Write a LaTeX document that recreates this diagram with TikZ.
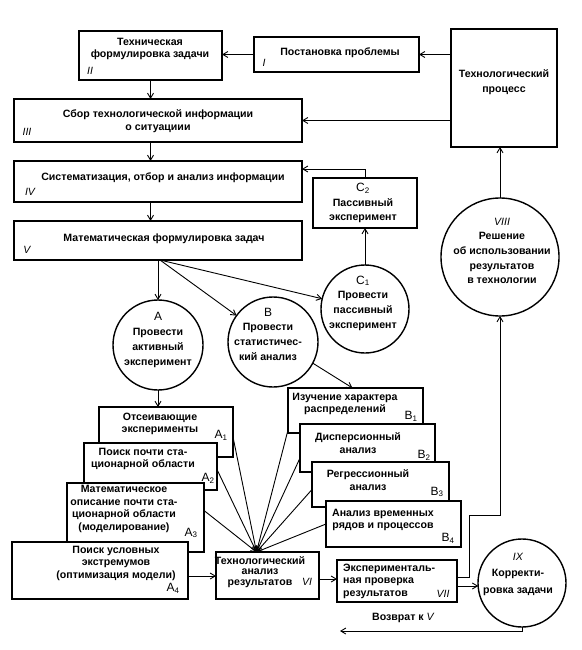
\documentclass[tikz,border=0pt]{standalone}
\usepackage{fontspec}
\setmainfont{Liberation Sans}
\usetikzlibrary{arrows.meta,shapes.geometric}
\newcommand\mkbox[5]{\node[boxst, anchor=north west, minimum width=#4pt, minimum height=#5pt] (#1) at (#2,#3) {};}
\newcommand\cletter[1]{{\mdseries\fontsize{12}{14.7}\selectfont #1}}
\begin{document}
\begin{tikzpicture}[x=1pt,y=-1pt,
  boxst/.style={draw, line width=1.6pt, fill=white, inner sep=0pt, outer sep=0pt},
  circst/.style={draw, circle, line width=1.4pt, inner sep=0pt, outer sep=0pt, fill=white},
  txt/.style={font=\bfseries\fontsize{10.6}{12.5}\selectfont, align=center, inner sep=0pt},
  ctxt/.style={font=\bfseries\fontsize{10.6}{14.7}\selectfont, align=center, inner sep=0pt},
  rom/.style={font=\itshape\fontsize{10.5}{12}\selectfont, inner sep=0pt},
  lab/.style={font=\fontsize{12}{12}\selectfont, inner sep=0pt},
  arr/.style={line width=0.9pt, -{Straight Barb[length=5pt,width=6pt]}},
  ln/.style={line width=0.9pt}
]
\useasboundingbox (0,0) rectangle (581,650);
% boxes
\mkbox{I}{254}{37}{165}{35}
\mkbox{II}{79}{31}{143}{49}
\mkbox{TP}{451}{29}{106}{118}
\mkbox{III}{14}{99}{288}{43}
\mkbox{IV}{14}{161}{288}{41}
\mkbox{V}{14}{221}{288}{39}
\mkbox{C2}{313}{178}{104}{50}
\mkbox{A1}{99}{407}{134}{50}
\mkbox{A2}{84}{443}{133}{47}
\mkbox{A3}{67}{483}{137}{69}
\mkbox{A4}{12}{542}{176}{57}
\mkbox{B1}{288}{388}{135}{45}
\mkbox{B2}{300}{424}{135}{48}
\mkbox{B3}{312}{462}{137}{45}
\mkbox{B4}{326}{501}{135}{46}
\mkbox{VI}{216}{552}{103}{47}
\mkbox{VII}{337}{560}{120}{42}
% circles
\node[circst, minimum size=90pt] (A) at (158,345) {};
\node[circst, minimum size=90pt] (B) at (273,342) {};
\node[circst, minimum size=88pt] (C1) at (365,309) {};
\node[circst, minimum size=118pt] (VIII) at (500,257) {};
\node[circst, minimum size=88pt] (IX) at (522,583) {};
% texts
\node[txt] (tI) at (340,53) {Постановка проблемы};
\node[rom] (nI) at (264,63) {I};
\node[txt] (tII) at (150,49) {Техническая\\формулировка задачи};
\node[rom] (nII) at (90,71) {II};
\node[ctxt] (tTP) at (504,82) {Технологический\\процесс};
\node[txt] (tIII) at (158,121) {Сбор технологической информации\\о ситуациии};
\node[rom] (nIII) at (27,132) {III};
\node[txt] (tIV) at (163,178) {Систематизация, отбор и анализ информации};
\node[rom] (nIV) at (30,192) {IV};
\node[txt] (tV) at (164,239) {Математическая формулировка задач};
\node[rom] (nV) at (27,250) {V};
\node[ctxt] (tC2) at (363,203) {\cletter{C\textsubscript{2}}\\Пассивный\\эксперимент};
\node[ctxt] (tC1) at (363,303) {\cletter{C\textsubscript{1}}\\Провести\\пассивный\\эксперимент};
\node[ctxt] (tVIII) at (502,251) {{\mdseries\itshape VIII}\\Решение\\об использовании\\результатов\\в технологии};
\node[ctxt] (tA) at (158,340) {\cletter{A}\\Провести\\активный\\эксперимент};
\node[ctxt] (tB) at (268,334) {\cletter{B}\\Провести\\статистичес-\\кий анализ};
\node[txt] (tA1) at (160,424) {Отсеивающие\\эксперименты};
\node[lab] (lA1) at (221,435) {A\textsubscript{1}};
\node[txt] (tA2) at (143,459) {Поиск почти ста-\\ционарной области};
\node[lab] (lA2) at (208,478) {A\textsubscript{2}};
\node[txt] (tA3) at (124,509) {Математическое\\описание почти ста-\\ционарной области\\(моделирование)};
\node[lab] (lA3) at (191,533) {A\textsubscript{3}};
\node[txt] (tA4) at (116,563) {Поиск условных\\экстремумов\\(оптимизация модели)};
\node[lab] (lA4) at (173,588) {A\textsubscript{4}};
\node[txt] (tB1) at (345,404) {Изучение характера\\распределений};
\node[lab] (lB1) at (411,416) {B\textsubscript{1}};
\node[txt] (tB2) at (358,443) {Дисперсионный\\анализ};
\node[lab] (lB2) at (424,455) {B\textsubscript{2}};
\node[txt] (tB3) at (368,480) {Регрессионный\\анализ};
\node[lab] (lB3) at (437,492) {B\textsubscript{3}};
\node[txt] (tB4) at (383,520) {Анализ временных\\рядов и процессов};
\node[lab] (lB4) at (448,538) {B\textsubscript{4}};
\node[txt, font=\bfseries\fontsize{10.6}{10.2}\selectfont] (tVI) at (260,572) {Технологический\\анализ\\результатов};
\node[rom] (nVI) at (307,582) {VI};
\node[txt, align=left, anchor=west] (tVII) at (343,581) {Эксперименталь-\\ная проверка\\результатов};
\node[rom] (nVII) at (443,594) {VII};
\node[txt, font=\bfseries\fontsize{10.6}{16.5}\selectfont] (tIX) at (518,574) {{\mdseries\itshape IX}\\Корректи-\\ровка задачи};
\node[txt] (tRet) at (403,618) {Возврат к {\mdseries\itshape V}};
% connectors
\draw[arr] (TP.west |- I.east) -- (I.east);
\draw[arr] (I.west) -- (I.west -| II.east);
\draw[arr] (TP.west |- III.east) -- (III.east);
\draw[arr] (II.south) -- (II.south |- III.north);
\draw[arr] (II.south |- III.south) -- (II.south |- IV.north);
\draw[arr] (II.south |- IV.south) -- (II.south |- V.north);
\coordinate (Vo) at ([xshift=2pt]A.north |- V.south);
\draw[arr] (A.north |- V.south) -- (A.north);
\draw[arr] (Vo) -- (B);
\draw[arr] (Vo) -- (C1);
\draw[arr] (C1.north) -- (C2.south);
\draw[arr] (C2.north) |- ([yshift=12.5pt]IV.east);
\draw[arr] (VIII.north) -- (VIII.north |- TP.south);
\draw[arr] (A.south) -- (A.south |- A1.north);
\draw[arr] (B.-28) -- ([xshift=-3pt]B1.north);
\coordinate (VIt) at ([xshift=-11pt]VI.north);
\draw[arr] ([yshift=-5pt]A1.east) -- (VIt);
\draw[arr] ([yshift=-3pt]A2.east) -- (VIt);
\draw[arr] ([yshift=7pt]A3.east) -- (VIt);
\draw[arr] ([yshift=3pt]B1.south west) -- (VIt);
\draw[arr] ([yshift=-10pt]B2.west) -- (VIt);
\draw[arr] ([yshift=-5pt]B3.west) -- (VIt);
\draw[arr] (B4.west) -- (VIt);
\draw[arr] ([yshift=-5.5pt]A4.east) -- ([yshift=-5.5pt]A4.east -| VI.west);
\draw[arr] ([yshift=-3.5pt]VI.east) -- ([yshift=-3.5pt]VI.east -| VII.west);
\draw[arr] ([yshift=4pt]VII.east) -- ++(12,0) -- ++(0,-62) -| (VIII.south);
\draw[arr] ([yshift=-3pt]VII.east |- IX.west) -- ([yshift=-3pt,xshift=0.2pt]IX.west);
\coordinate (ret) at (340,631);
\draw[arr] (IX.south) |- (ret);
\end{tikzpicture}
\end{document}
